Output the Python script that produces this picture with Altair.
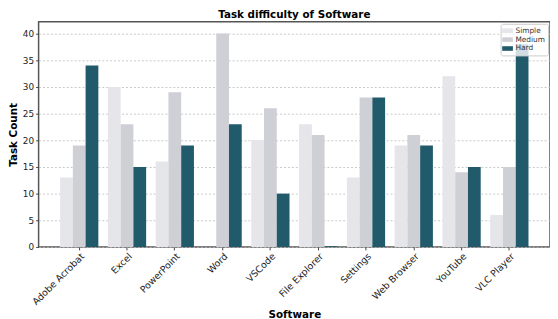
import altair as alt
import pandas as pd

software = ["Adobe Acrobat", "Excel", "PowerPoint", "Word", "VSCode",
            "File Explorer", "Settings", "Web Browser", "YouTube", "VLC Player"]
levels = ["Simple", "Medium", "Hard"]
simple = [13, 30, 16, 0, 20, 23, 13, 19, 32, 6]
medium = [19, 23, 29, 40, 26, 21, 28, 21, 14, 15]
hard = [34, 15, 19, 23, 10, 0.15, 28, 19, 15, 38]
colors = ["#e5e5ea", "#cfcfd6", "#215a6a"]

rows = []
for i, s in enumerate(software):
    for lvl, vals in zip(levels, [simple, medium, hard]):
        rows.append({"Software": s, "Difficulty": lvl, "Count": vals[i]})
df = pd.DataFrame(rows)

font = "DejaVu Sans"

chart = alt.Chart(df).mark_bar().encode(
    x=alt.X("Software:N", sort=software,
            scale=alt.Scale(paddingInner=0.2, paddingOuter=0.45),
            axis=alt.Axis(title="Software", labelAngle=-45, labelAlign="right",
                          labelBaseline="top", labelFontSize=9.5, labelColor="#222",
                          titleFontSize=10.5, titleFontWeight="bold", titleColor="#000",
                          titlePadding=3, tickSize=3, tickColor="#444",
                          domain=False, grid=False, labelPadding=1)),
    xOffset=alt.XOffset("Difficulty:N", sort=levels),
    y=alt.Y("Count:Q", scale=alt.Scale(domain=[0, 42.2], nice=False),
            axis=alt.Axis(title="Task Count", values=[0, 5, 10, 15, 20, 25, 30, 35, 40],
                          labelFontSize=9, labelColor="#222", titleFontSize=10.5,
                          titleFontWeight="bold", titleColor="#000", titlePadding=4,
                          tickSize=3, tickColor="#444", domain=False,
                          grid=True, gridDash=[2, 2], gridColor="#bbbbbb",
                          gridWidth=0.8)),
    color=alt.Color("Difficulty:N", sort=levels,
                    scale=alt.Scale(domain=levels, range=colors),
                    legend=alt.Legend(title=None, orient="top-right", offset=2,
                                      symbolType="M-1.4,-0.6H1.4V0.6H-1.4Z",
                                      symbolSize=60, symbolStrokeWidth=0,
                                      labelFontSize=7.5, labelColor="#333",
                                      fillColor="rgba(255,255,255,0.8)",
                                      strokeColor="#cccccc", padding=3,
                                      rowPadding=1, cornerRadius=2)),
).properties(
    width=518, height=228,
    title=alt.TitleParams("Task difficulty of Software", fontSize=10.5,
                          fontWeight="bold", color="#000", offset=1),
    padding={"left": 0, "top": 0, "right": 0, "bottom": 0},
).configure(font=font).configure_view(
    stroke="#555", strokeWidth=1.5
)

chart.save("out.html", embed_options={"renderer": "svg", "actions": False})
